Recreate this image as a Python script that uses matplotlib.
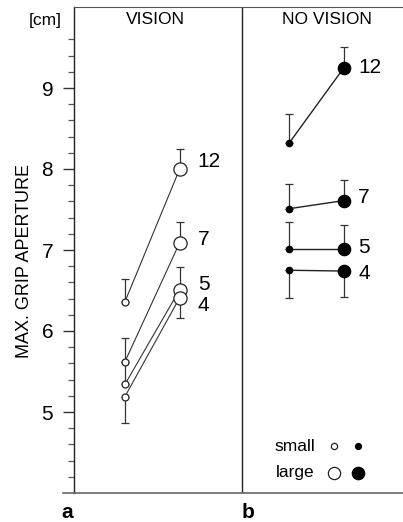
import matplotlib
matplotlib.use("Agg")
import matplotlib.pyplot as plt
from matplotlib.lines import Line2D

plt.rcParams['font.family'] = ['Liberation Sans', 'DejaVu Sans']

# ---- data ----
sizes = ["12", "7", "5", "4"]
# vision (open markers)
vis_small = [6.36, 5.62, 5.34, 5.19]
vis_large = [8.00, 7.09, 6.51, 6.41]
vis_small_err = [0.28, 0.29, 0.28, -0.33]   # sign = direction of drawn bar
vis_large_err = [0.25, 0.26, 0.28, -0.25]
# no vision (filled markers)
nov_small = [8.32, 7.51, 7.01, 6.75]
nov_large = [9.25, 7.61, 7.01, 6.74]
nov_small_err = [0.36, 0.31, 0.34, -0.34]
nov_large_err = [0.26, 0.26, 0.30, -0.32]
# label y positions
vis_label_y = [8.09, 7.13, 6.58, 6.31]
nov_label_y = [9.25, 7.65, 7.03, 6.71]

x_vis = [0, 1]
x_nov = [3, 4]

fig = plt.figure(figsize=(4.03, 5.22), dpi=100)
ax = fig.add_axes([74/403, 1-493/522, 1-74/403, (493-7)/522])
ax.set_xlim(-0.93, 5.08)
ax.set_ylim(4.0, 10.0)

def errbar(x, y, e):
    if e == 0:
        return
    ax.errorbar([x], [y], yerr=[[abs(e) if e < 0 else 0], [e if e > 0 else 0]],
                fmt='none', ecolor='#333333', elinewidth=0.9, capsize=3.2,
                capthick=0.9, zorder=2)

for i in range(4):
    # vision
    ax.plot(x_vis, [vis_small[i], vis_large[i]], color='#333333', lw=0.8, zorder=1)
    errbar(x_vis[0], vis_small[i], vis_small_err[i])
    errbar(x_vis[1], vis_large[i], vis_large_err[i])
    ax.plot([x_vis[0]], [vis_small[i]], 'o', ms=5, mfc='white', mec='#222222', mew=0.9, zorder=3)
    ax.plot([x_vis[1]], [vis_large[i]], 'o', ms=9.5, mfc='white', mec='#222222', mew=0.9, zorder=3)
    ax.text(1.33, vis_label_y[i], sizes[i], fontsize=15, va='center', ha='left')
    # no vision
    ax.plot(x_nov, [nov_small[i], nov_large[i]], color='#222222', lw=1.0, zorder=1)
    errbar(x_nov[0], nov_small[i], nov_small_err[i])
    errbar(x_nov[1], nov_large[i], nov_large_err[i])
    ax.plot([x_nov[0]], [nov_small[i]], 'o', ms=4.5, mfc='black', mec='black', zorder=3)
    ax.plot([x_nov[1]], [nov_large[i]], 'o', ms=8.8, mfc='black', mec='black', zorder=3)
    ax.text(4.26, nov_label_y[i], sizes[i], fontsize=15, va='center', ha='left')

# divider
ax.axvline(2.14, color='#222222', lw=1.0)

# headers
ax.text(0.55, 9.845, "VISION", fontsize=12.5, ha='center', va='center')
ax.text(3.69, 9.845, "NO VISION", fontsize=12.5, ha='center', va='center')

# legend
ax.text(3.47, 4.57, "small", fontsize=12.5, ha='right', va='center')
ax.text(3.47, 4.25, "large", fontsize=12.5, ha='right', va='center')
ax.plot([3.82], [4.58], 'o', ms=4.5, mfc='white', mec='#222222', mew=0.9)
ax.plot([4.26], [4.58], 'o', ms=4.2, mfc='black', mec='black')
ax.plot([3.82], [4.25], 'o', ms=8.8, mfc='white', mec='#222222', mew=0.9)
ax.plot([4.26], [4.25], 'o', ms=8.8, mfc='black', mec='black')

# spines and ticks
ax.spines['right'].set_visible(False)
ax.spines['top'].set_color('#555555')
ax.spines['bottom'].set_visible(False)
ax.spines['left'].set_color('#222222')
ax.spines['left'].set_linewidth(1.0)
ax.set_xticks([])
ax.set_yticks([5, 6, 7, 8, 9])
ax.set_yticks([4.2 + 0.2*k for k in range(28) if abs((4.2+0.2*k) - round(4.2+0.2*k)) > 0.05], minor=True)
ax.tick_params(axis='y', which='major', length=8, width=1.0, labelsize=15, pad=7.0, color='#333333')
ax.tick_params(axis='y', which='minor', length=4, width=0.9, color='#555555')

# bottom baseline extending left of the axis
fig.add_artist(Line2D([63/403, 1.0], [1-493/522, 1-493/522], color='#666666', lw=1.2))

ax.set_ylabel("MAX. GRIP APERTURE", fontsize=13)
ax.yaxis.set_label_coords((33-74)/329, (493-261)/486)

fig.text(45/403, 1-20/522, "[cm]", fontsize=12.5, ha='center', va='center')
fig.text(67/403, 1-518/522, "a", fontsize=15, fontweight='bold', ha='center', va='baseline')
fig.text(248/403, 1-518/522, "b", fontsize=15, fontweight='bold', ha='center', va='baseline')

fig.savefig("out.png", dpi=100)
